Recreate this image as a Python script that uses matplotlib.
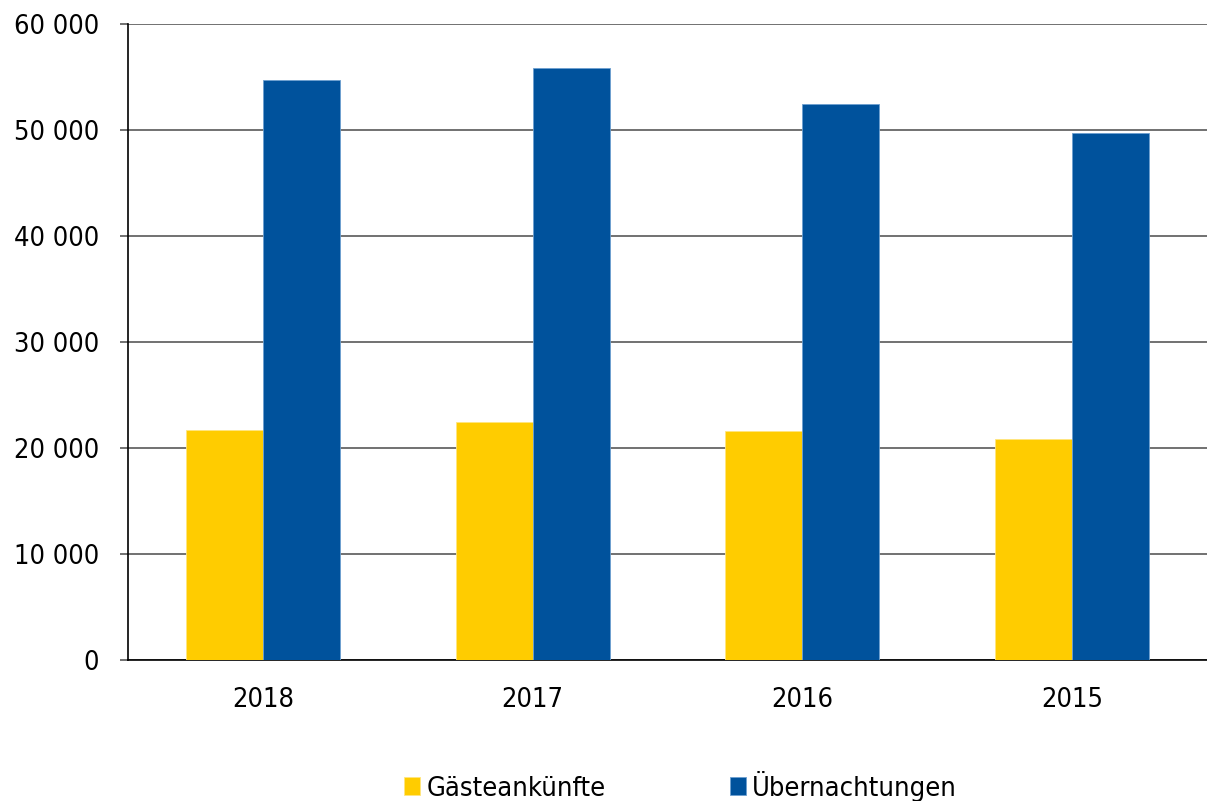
import matplotlib
matplotlib.use("Agg")
import matplotlib.pyplot as plt
import numpy as np
from matplotlib.ticker import FuncFormatter

years = ["2018", "2017", "2016", "2015"]
gaesteankuenfte = [21750, 22480, 21600, 20880]
uebernachtungen = [54750, 55850, 52450, 49750]
series_names = ["Gästeankünfte", "Übernachtungen"]
colors = ["#FFCC00", "#00529C"]

plt.rcParams['font.family'] = ['DejaVu Sans']
plt.rcParams['font.stretch'] = 'condensed'

fig = plt.figure(figsize=(12.07, 8.01), dpi=100)
ax = fig.add_axes([128/1207, 140.7/801, 1 - 128/1207, (660.3 - 24.3)/801])

x = np.arange(len(years))
w = 0.285
ax.bar(x - w/2, gaesteankuenfte, width=w, color=colors[0], label=series_names[0],
       edgecolor="#FFE680", linewidth=0.6, zorder=3)
ax.bar(x + w/2, uebernachtungen, width=w, color=colors[1], label=series_names[1],
       edgecolor="#6C9FD0", linewidth=0.6, zorder=3)

ax.set_xlim(-0.5, len(years) - 0.5)
ax.set_ylim(0, 60000)
ax.set_yticks(np.arange(0, 60001, 10000))
ax.yaxis.set_major_formatter(FuncFormatter(lambda v, p: f"{int(v):,}".replace(",", " ")))
ax.set_xticks(x)
ax.set_xticklabels(years)

ax.grid(axis="y", color="#595959", linewidth=1.2, zorder=0)
ax.set_axisbelow(True)
for s in ["top", "right"]:
    ax.spines[s].set_visible(False)
ax.spines["left"].set_color("black")
ax.spines["bottom"].set_color("black")
ax.spines["left"].set_linewidth(1.2)
ax.spines["bottom"].set_linewidth(1.2)

ax.tick_params(axis="y", length=6, width=1.2, color="#595959", pad=15, labelsize=19.5)
ax.tick_params(axis="x", length=0, pad=19, labelsize=19.5)

fig.legend(loc="center", bbox_to_anchor=(680.5/1207, 1 - 786/801), ncol=2,
           frameon=False, fontsize=19.5, handlelength=0.6, handleheight=0.6,
           handletextpad=0.22, columnspacing=4.6)

fig.savefig("out.png", dpi=100)
